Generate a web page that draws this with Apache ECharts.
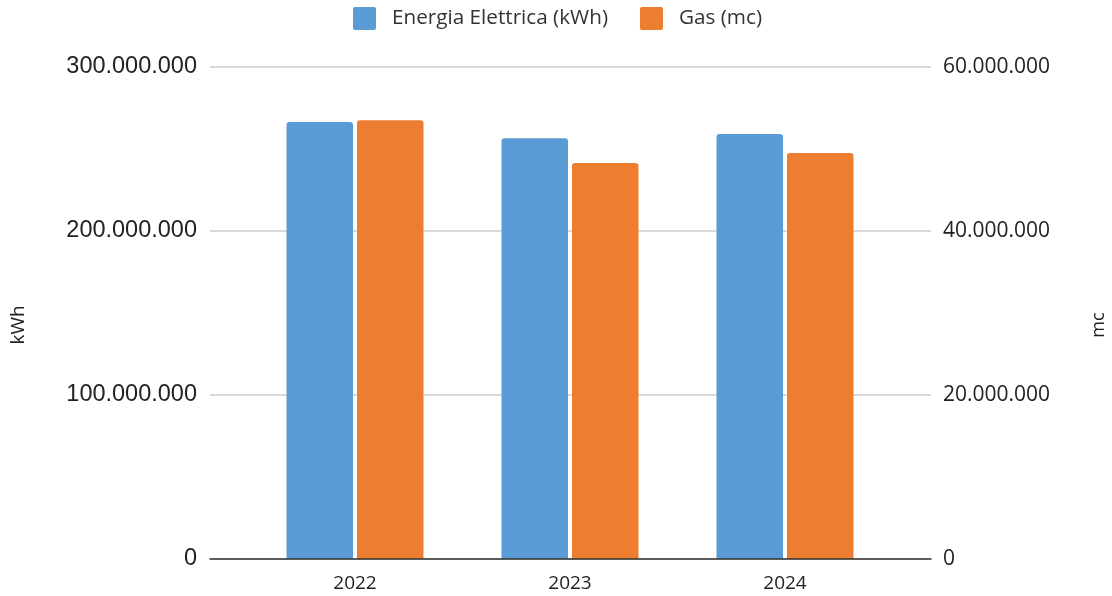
<!DOCTYPE html>
<html>
<head>
<meta charset="utf-8">
<script src="https://cdn.jsdelivr.net/npm/echarts@6/dist/echarts.min.js"></script>
<style>html,body{margin:0;padding:0;background:#fff;}#c{width:1112px;height:596px;}</style>
</head>
<body>
<div id="c"></div>
<script>
var years = ['2022', '2023', '2024'];
var energiaKWh = [266400000, 256600000, 259200000];
var gasMc = [53500000, 48300000, 49500000];
var leftTicks = [0, 100000000, 200000000, 300000000];
var rightTicks = [0, 20000000, 40000000, 60000000];

function fmt(v) { return String(v).replace(/\B(?=(\d{3})+(?!\d))/g, '.'); }

var chart = echarts.init(document.getElementById('c'));
chart.setOption({
  animation: false,
  backgroundColor: '#fff',
  legend: {
    top: 2, left: 348,
    itemWidth: 23, itemHeight: 23, itemGap: 32,
    icon: 'path://M2,0 L21,0 Q23,0 23,2 L23,21 Q23,23 21,23 L2,23 Q0,23 0,21 L0,2 Q0,0 2,0 Z',
    textStyle: { fontFamily: 'Open Sans', fontSize: 20.7, color: '#333', padding: [0, 0, 0, 11] },
    data: ['Energia Elettrica (kWh)', 'Gas (mc)']
  },
  grid: [
    { left: 210, right: 181, top: 67, bottom: 37, outerBoundsMode: 'none', containLabel: false },
    { left: 247.5, right: 219.5, top: 67, bottom: 37, outerBoundsMode: 'none', containLabel: false }
  ],
  xAxis: [
    { gridIndex: 0, type: 'value', min: 0, max: 1, z: 10,
      axisLine: { show: true, lineStyle: { color: '#333', width: 1.5 } },
      axisTick: { show: false }, axisLabel: { show: false }, splitLine: { show: false } },
    { gridIndex: 1, type: 'category', data: years,
      axisLine: { show: false }, axisTick: { show: false },
      axisLabel: { fontFamily: 'Open Sans', fontSize: 19, color: '#222', margin: 15 } }
  ],
  yAxis: [
    { gridIndex: 0, type: 'value', min: leftTicks[0], max: leftTicks[leftTicks.length - 1], interval: leftTicks[1] - leftTicks[0],
      name: 'kWh', nameLocation: 'middle', nameGap: 182,
      nameTextStyle: { fontFamily: 'Open Sans', fontSize: 19, color: '#222', padding: [0, 24, 0, 0] },
      axisLine: { show: false }, axisTick: { show: false },
      axisLabel: { formatter: fmt, fontFamily: 'Liberation Sans', fontSize: 23.5, color: '#222', margin: 13 },
      splitLine: { show: true, lineStyle: { color: '#cccccc', width: 1.5 } } },
    { gridIndex: 0, type: 'value', position: 'right', min: rightTicks[0], max: rightTicks[rightTicks.length - 1], interval: rightTicks[1] - rightTicks[0],
      name: 'mc', nameLocation: 'middle', nameGap: 159,
      nameTextStyle: { fontFamily: 'Open Sans', fontSize: 18, color: '#222', padding: [0, 24, 0, 0] },
      axisLine: { show: false }, axisTick: { show: false },
      axisLabel: { formatter: fmt, fontFamily: 'Open Sans', fontSize: 21, color: '#222', margin: 12 },
      splitLine: { show: false } },
    { gridIndex: 1, type: 'value', min: leftTicks[0], max: leftTicks[leftTicks.length - 1], show: false },
    { gridIndex: 1, type: 'value', min: rightTicks[0], max: rightTicks[rightTicks.length - 1], show: false }
  ],
  series: [
    { name: 'Energia Elettrica (kWh)', type: 'bar', xAxisIndex: 1, yAxisIndex: 2, data: energiaKWh,
      barWidth: 66.5, barGap: '6%', itemStyle: { color: '#5B9BD5', borderRadius: [3, 3, 0, 0] } },
    { name: 'Gas (mc)', type: 'bar', xAxisIndex: 1, yAxisIndex: 3, data: gasMc,
      barWidth: 66.5, barGap: '6%', itemStyle: { color: '#ED7D31', borderRadius: [3, 3, 0, 0] } }
  ]
});
</script>
</body>
</html>
